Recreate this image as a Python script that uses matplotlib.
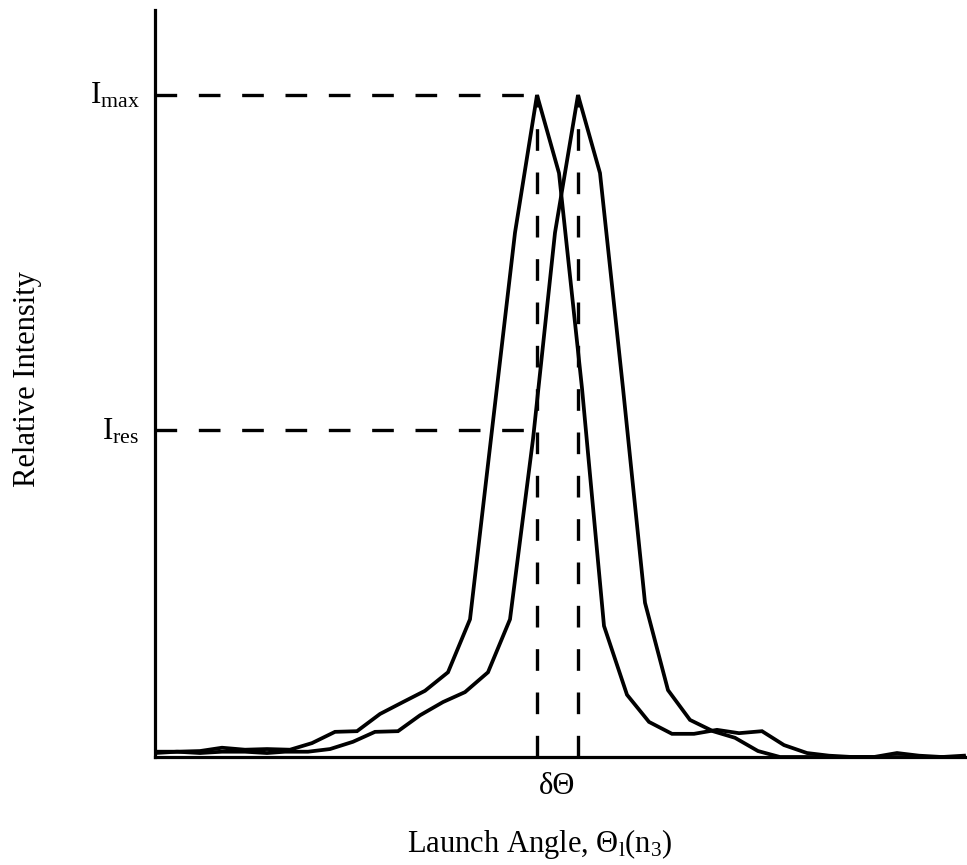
import matplotlib
matplotlib.use("Agg")
import matplotlib.pyplot as plt

plt.rcParams.update({
    "font.family": ["Liberation Serif", "DejaVu Serif"],
    "mathtext.fontset": "custom",
    "mathtext.rm": "Liberation Serif",
    "mathtext.it": "Liberation Serif:italic",
})

# launch angle (arbitrary units) and relative intensity, I / I_max
angle_a = [0, 22, 45, 67, 90, 112, 135, 157, 180, 202, 225, 248, 270, 293, 315,
           337, 360, 382, 404, 427, 449, 472, 494, 517, 539, 562, 584, 607, 629,
           652, 674, 697, 719, 742, 764, 787, 809]
inten_a = [0.008, 0.008, 0.009, 0.014, 0.011, 0.012, 0.011, 0.021, 0.038, 0.039,
           0.065, 0.083, 0.100, 0.128, 0.208, 0.494, 0.792, 1.000, 0.882, 0.557,
           0.198, 0.094, 0.053, 0.035, 0.035, 0.041, 0.036, 0.039, 0.018, 0.006,
           0.002, 0.000, 0.000, 0.006, 0.002, 0.000, 0.002]

angle_b = [0, 22, 45, 67, 90, 112, 130, 153, 175, 198, 220, 243, 265, 288, 310,
           333, 355, 378, 400, 423, 445, 468, 490, 513, 535, 558, 580, 603, 625,
           648, 670, 693, 715, 738, 760, 783, 809]
inten_b = [0.006, 0.008, 0.006, 0.008, 0.008, 0.006, 0.008, 0.008, 0.012, 0.023,
           0.038, 0.039, 0.063, 0.083, 0.098, 0.128, 0.208, 0.480, 0.792, 1.000,
           0.882, 0.557, 0.233, 0.101, 0.056, 0.039, 0.029, 0.009, 0.000, 0.000,
           0.000, 0.000, 0.000, 0.000, 0.000, 0.000, 0.000]

i_max = 1.0
i_res = 0.494
peak_a = 382
peak_b = 423

fig = plt.figure(figsize=(9.67, 8.65), dpi=100)
ax = fig.add_axes([155 / 967, 108 / 865, 812 / 967, 747 / 865])

ax.plot(angle_a, inten_a, color="black", lw=2.7, solid_joinstyle="miter")
ax.plot(angle_b, inten_b, color="black", lw=2.7, solid_joinstyle="miter")

dash = dict(color="black", lw=2.4, dashes=(6.5, 6.5))
ax.plot([0, peak_a], [i_max, i_max], **dash)
ax.plot([0, peak_a], [i_res, i_res], **dash)
ax.plot([peak_a, peak_a], [0, i_max], **dash)
ax.plot([peak_b, peak_b], [0, i_max], **dash)

ax.set_xlim(0, 812)
ax.set_ylim(0, 747 / 662)
for side in ("top", "right"):
    ax.spines[side].set_visible(False)
for side in ("left", "bottom"):
    ax.spines[side].set_linewidth(2.3)
ax.set_xticks([])
ax.set_yticks([])

ax.annotate(r"$\mathrm{I_{max}}$", xy=(0, i_max), xytext=(-11, -6),
            textcoords="offset points", ha="right", va="baseline", fontsize=22.5)
ax.annotate(r"$\mathrm{I_{res}}$", xy=(0, i_res), xytext=(-11, -7),
            textcoords="offset points", ha="right", va="baseline", fontsize=22.5)
ax.annotate("δΘ", xy=((peak_a + peak_b) / 2, 0), xytext=(0, -27),
            textcoords="offset points", ha="center", va="baseline", fontsize=22)

fig.text(540 / 967, 1 - 852 / 865, r"Launch Angle, $\mathrm{Θ_l(n_3)}$",
         ha="center", va="baseline", fontsize=22)
fig.text(28 / 967, 1 - 379 / 865, "Relative Intensity", rotation=90,
         ha="center", va="center", fontsize=22)

fig.savefig("out.png", dpi=100)
